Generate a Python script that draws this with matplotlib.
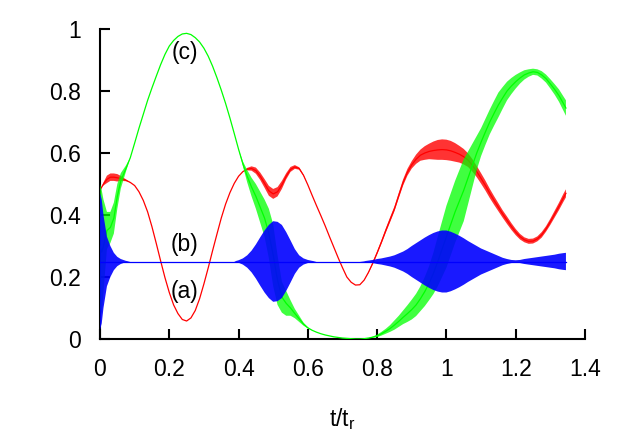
import matplotlib
matplotlib.use("Agg")
import matplotlib.pyplot as plt
import numpy as np

plt.rcParams['font.family'] = ['Liberation Sans', 'DejaVu Sans']

# time grid (t/t_r)
t = [0.0, 0.005, 0.01, 0.02, 0.03, 0.04, 0.05, 0.06,
     0.075, 0.0875,
     0.1, 0.1125, 0.125, 0.1375, 0.15, 0.1625, 0.175, 0.1875,
     0.2, 0.2125, 0.225, 0.2375, 0.25, 0.2625, 0.275, 0.2875,
     0.3, 0.3125, 0.325, 0.3375, 0.35, 0.3625, 0.375, 0.3875,
     0.4, 0.4125, 0.425, 0.4375, 0.45, 0.4625, 0.475, 0.4875,
     0.5, 0.5125, 0.525, 0.5375, 0.55, 0.5625, 0.575, 0.5875,
     0.6, 0.6125, 0.625, 0.6375, 0.65, 0.6625, 0.675, 0.6875,
     0.7, 0.7125, 0.725, 0.7375, 0.75, 0.7625, 0.775, 0.7875,
     0.8, 0.8125, 0.825, 0.8375, 0.85, 0.8625, 0.875, 0.8875,
     0.9, 0.9125, 0.925, 0.9375, 0.95, 0.9625, 0.975, 0.9875,
     1.0, 1.0125, 1.025, 1.0375, 1.05, 1.0625, 1.075, 1.0875,
     1.1, 1.1125, 1.125, 1.1375, 1.15, 1.1625, 1.175, 1.1875,
     1.2, 1.2125, 1.225, 1.2375, 1.25, 1.2625, 1.275, 1.2875,
     1.3, 1.3125, 1.325, 1.3375, 1.345]

# curve (a), red: mean value and half-width of the fast oscillation
a_mid = [0.48, 0.49, 0.50, 0.515, 0.522, 0.522, 0.52, 0.518,
         0.512, 0.505,
         0.495, 0.475, 0.447, 0.41, 0.362, 0.308, 0.252, 0.198,
         0.15, 0.11, 0.082, 0.063, 0.058, 0.068, 0.092, 0.13,
         0.178, 0.23, 0.285, 0.338, 0.39, 0.435, 0.472, 0.502,
         0.525, 0.54, 0.548, 0.55, 0.543, 0.525, 0.502, 0.478,
         0.468, 0.475, 0.497, 0.525, 0.547, 0.555, 0.55, 0.528,
         0.497, 0.463, 0.43, 0.398, 0.365, 0.33, 0.296, 0.262,
         0.23, 0.2, 0.183, 0.174, 0.175, 0.19, 0.215, 0.245,
         0.278, 0.313, 0.35, 0.385, 0.42, 0.463, 0.505, 0.538,
         0.562, 0.58, 0.593, 0.6, 0.605, 0.608, 0.61, 0.611,
         0.61, 0.607, 0.602, 0.596, 0.588, 0.577, 0.56, 0.54,
         0.518, 0.495, 0.47, 0.447, 0.425, 0.403, 0.383, 0.363,
         0.345, 0.33, 0.32, 0.315, 0.316, 0.323, 0.336, 0.355,
         0.378, 0.403, 0.428, 0.455, 0.47]
a_osc = [0.0, 0.0, 0.005, 0.012, 0.012, 0.012, 0.012, 0.008,
         0.003, 0.0,
         0.0, 0.0, 0.0, 0.0, 0.0, 0.0, 0.0, 0.0,
         0.0, 0.0, 0.0, 0.0, 0.0, 0.0, 0.0, 0.0,
         0.0, 0.0, 0.0, 0.0, 0.0, 0.0, 0.0, 0.0,
         0.0, 0.0, 0.004, 0.007, 0.01, 0.012, 0.014, 0.016,
         0.016, 0.015, 0.013, 0.01, 0.008, 0.006, 0.004, 0.002,
         0.0, 0.0, 0.0, 0.0, 0.0, 0.0, 0.0, 0.0,
         0.0, 0.0, 0.0, 0.0, 0.0, 0.0, 0.002, 0.004,
         0.005, 0.006, 0.007, 0.008, 0.008, 0.009, 0.01, 0.011,
         0.012, 0.015, 0.018, 0.022, 0.025, 0.029, 0.032, 0.033,
         0.033, 0.032, 0.03, 0.027, 0.025, 0.022, 0.02, 0.018,
         0.017, 0.016, 0.015, 0.014, 0.013, 0.012, 0.012, 0.011,
         0.01, 0.009, 0.008, 0.008, 0.008, 0.008, 0.009, 0.009,
         0.01, 0.011, 0.012, 0.013, 0.013]

# curve (b), blue
b_mid = [0.25, 0.25, 0.25, 0.25, 0.25, 0.25, 0.25, 0.25,
         0.25, 0.25,
         0.25, 0.25, 0.25, 0.25, 0.25, 0.25, 0.25, 0.25,
         0.25, 0.25, 0.25, 0.25, 0.25, 0.25, 0.25, 0.25,
         0.25, 0.25, 0.25, 0.25, 0.25, 0.25, 0.25, 0.25,
         0.25, 0.25, 0.25, 0.25, 0.25, 0.25, 0.25, 0.25,
         0.25, 0.25, 0.25, 0.25, 0.25, 0.25, 0.25, 0.25,
         0.25, 0.25, 0.25, 0.25, 0.25, 0.25, 0.25, 0.25,
         0.25, 0.25, 0.25, 0.25, 0.25, 0.25, 0.25, 0.25,
         0.25, 0.25, 0.25, 0.25, 0.25, 0.25, 0.25, 0.25,
         0.25, 0.25, 0.25, 0.25, 0.25, 0.25, 0.25, 0.25,
         0.25, 0.25, 0.25, 0.25, 0.25, 0.25, 0.25, 0.25,
         0.25, 0.25, 0.25, 0.25, 0.25, 0.25, 0.25, 0.25,
         0.25, 0.25, 0.25, 0.25, 0.25, 0.25, 0.25, 0.25,
         0.25, 0.25, 0.25, 0.25, 0.25]
b_osc = [0.22, 0.2, 0.15, 0.08, 0.05, 0.028, 0.015, 0.008,
         0.002, 0.0,
         0.0, 0.0, 0.0, 0.0, 0.0, 0.0, 0.0, 0.0,
         0.0, 0.0, 0.0, 0.0, 0.0, 0.0, 0.0, 0.0,
         0.0, 0.0, 0.0, 0.0, 0.0, 0.0, 0.0, 0.0,
         0.004, 0.01, 0.02, 0.035, 0.055, 0.078, 0.1, 0.118,
         0.13, 0.128, 0.118, 0.095, 0.068, 0.04, 0.02, 0.01,
         0.005, 0.002, 0.0, 0.0, 0.0, 0.0, 0.0, 0.0,
         0.0, 0.0, 0.0, 0.0, 0.0, 0.001, 0.003, 0.005,
         0.008, 0.01, 0.013, 0.016, 0.02, 0.026, 0.032, 0.04,
         0.05, 0.059, 0.068, 0.077, 0.085, 0.092, 0.097, 0.1,
         0.1, 0.096, 0.09, 0.083, 0.075, 0.066, 0.058, 0.05,
         0.042, 0.036, 0.03, 0.024, 0.018, 0.012, 0.008, 0.005,
         0.004, 0.005, 0.008, 0.01, 0.012, 0.014, 0.016, 0.018,
         0.02, 0.022, 0.025, 0.027, 0.028]

# curve (c), green
c_mid = [0.3, 0.28, 0.3, 0.35, 0.36, 0.39, 0.46, 0.51,
         0.55, 0.585,
         0.632, 0.68, 0.725, 0.77, 0.81, 0.848, 0.885, 0.918,
         0.945, 0.963, 0.976, 0.984, 0.986, 0.982, 0.972, 0.958,
         0.938, 0.912, 0.88, 0.843, 0.803, 0.76, 0.713, 0.663,
         0.612, 0.565, 0.525, 0.49, 0.46, 0.425, 0.39, 0.34,
         0.27, 0.19, 0.135, 0.115, 0.1, 0.082, 0.065, 0.048,
         0.036, 0.028, 0.022, 0.017, 0.013, 0.01, 0.007, 0.005,
         0.003, 0.002, 0.001, 0.0, 0.0, 0.001, 0.003, 0.006,
         0.01, 0.017, 0.025, 0.034, 0.045, 0.057, 0.07, 0.082,
         0.095, 0.11, 0.13, 0.153, 0.18, 0.212, 0.25, 0.29,
         0.33, 0.37, 0.41, 0.445, 0.48, 0.52, 0.56, 0.6,
         0.635, 0.668, 0.7, 0.728, 0.755, 0.778, 0.8, 0.816,
         0.83, 0.842, 0.852, 0.858, 0.862, 0.86, 0.852, 0.84,
         0.823, 0.805, 0.785, 0.76, 0.745]
c_osc = [0.2, 0.2, 0.15, 0.06, 0.05, 0.05, 0.04, 0.025,
         0.01, 0.0,
         0.0, 0.0, 0.0, 0.0, 0.0, 0.0, 0.0, 0.0,
         0.0, 0.0, 0.0, 0.0, 0.0, 0.0, 0.0, 0.0,
         0.0, 0.0, 0.0, 0.0, 0.0, 0.0, 0.0, 0.0,
         0.0, 0.008, 0.02, 0.03, 0.04, 0.05, 0.06, 0.08,
         0.1, 0.08, 0.05, 0.04, 0.025, 0.015, 0.01, 0.005,
         0.002, 0.0, 0.0, 0.0, 0.0, 0.0, 0.0, 0.0,
         0.0, 0.0, 0.0, 0.0, 0.0, 0.0, 0.0, 0.002,
         0.004, 0.006, 0.008, 0.011, 0.015, 0.018, 0.022, 0.027,
         0.032, 0.036, 0.04, 0.047, 0.055, 0.067, 0.08, 0.09,
         0.1, 0.1, 0.1, 0.1, 0.1, 0.085, 0.07, 0.055,
         0.045, 0.042, 0.04, 0.04, 0.04, 0.035, 0.03, 0.026,
         0.022, 0.018, 0.015, 0.012, 0.01, 0.01, 0.012, 0.013,
         0.015, 0.017, 0.02, 0.023, 0.025]

x_ticks = [0, 0.2, 0.4, 0.6, 0.8, 1.0, 1.2, 1.4]
x_ticklabels = ['0', '0.2', '0.4', '0.6', '0.8', '1', '1.2', '1.4']
y_ticks = [0, 0.2, 0.4, 0.6, 0.8, 1.0]
y_ticklabels = ['0', '0.2', '0.4', '0.6', '0.8', '1']

series = [
    (a_mid, a_osc, '#ff0000', 0.8),
    (c_mid, c_osc, '#00ff00', 0.75),
    (b_mid, b_osc, '#0000ff', 0.9),
]

fig = plt.figure(figsize=(6.23, 4.36), dpi=100)
ax = fig.add_axes([100/623, 97/436, 485/623, 310/436])

tt = np.array(t)
for z, (mid, osc, col, al) in enumerate(series):
    mid = np.array(mid)
    osc = np.array(osc)
    ax.fill_between(tt, mid - osc, mid + osc, where=osc > 0,
                    interpolate=True, color=col, alpha=al, lw=0,
                    zorder=2 + z)
    ax.plot(tt, mid, color=col, lw=0.9, zorder=2 + z)

ax.text(0.245, 0.925, '(c)', fontsize=16.5, ha='center', va='center')
ax.text(0.245, 0.304, '(b)', fontsize=16.5, ha='center', va='center')
ax.text(0.245, 0.153, '(a)', fontsize=16.5, ha='center', va='center')

ax.set_xlim(0, 1.4)
ax.set_ylim(0, 1)
ax.set_xticks(x_ticks)
ax.set_xticklabels(x_ticklabels)
ax.set_yticks(y_ticks)
ax.set_yticklabels(y_ticklabels)
ax.tick_params(direction='in', length=7, width=1.5, labelsize=16.5, pad=14,
               top=False, right=False)
for s in ['top', 'right']:
    ax.spines[s].set_visible(False)
for s in ['left', 'bottom']:
    ax.spines[s].set_linewidth(1.5)
ax.set_xlabel(r'$\mathregular{t/t_r}$', fontsize=16.5, labelpad=18)

fig.savefig('out.png', dpi=100)
